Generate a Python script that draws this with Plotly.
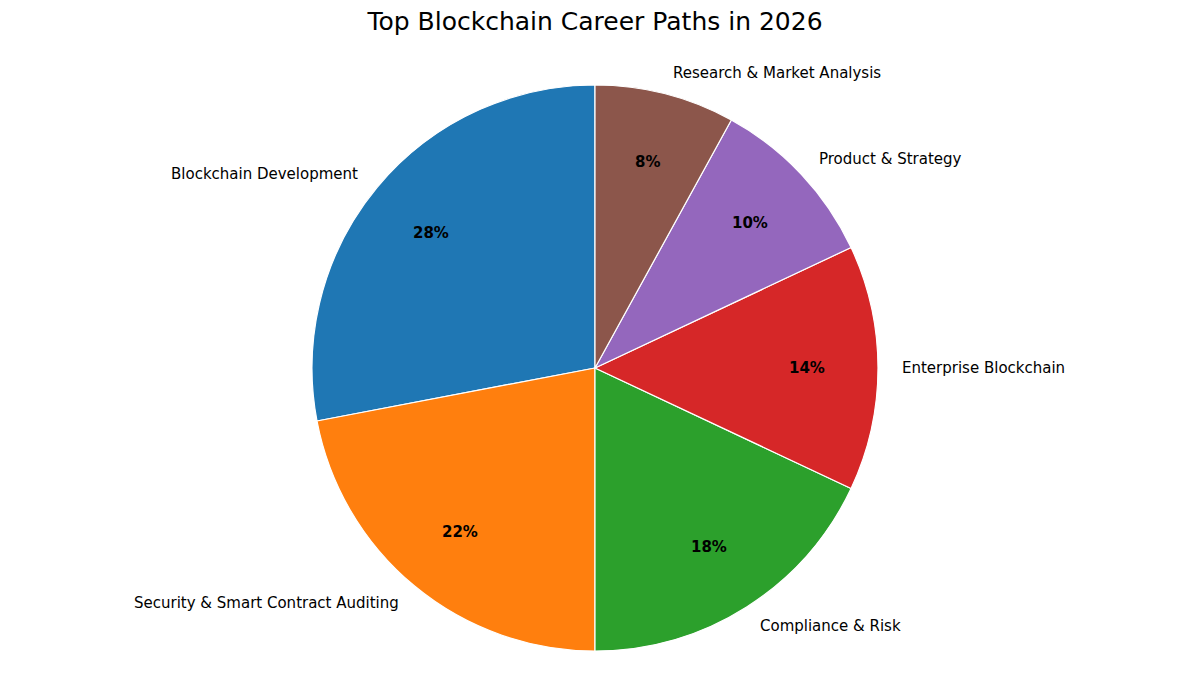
import math
import plotly.graph_objects as go

categories = ["Blockchain Development", "Security & Smart Contract Auditing", "Compliance & Risk",
              "Enterprise Blockchain", "Product & Strategy", "Research & Market Analysis"]
shares = [28, 22, 18, 14, 10, 8]
colors = ["#1f77b4", "#ff7f0e", "#2ca02c", "#d62728", "#9467bd", "#8c564b"]

W, H = 1189, 690
OFF = 8  # page body margin shifts the figure by this much
CX, CY, R = 595 - OFF, 368 - OFF, 283
FONT = "DejaVu Sans"


def label_annotations(values, names):
    # place labels like matplotlib: names just outside the rim, percentages at 0.75 r
    plot_w = W
    plot_h = H - (CY - R) - (H - CY - R)
    total = sum(values)
    notes = []
    cum = 0
    for v, name in zip(values, names):
        ang = math.radians(90 + 360 * (cum + v / 2) / total)
        cum += v
        for k, txt, bold in [(1.078, name, False), (0.75, f"{v / total * 100:.0f}%", True)]:
            px = CX + k * R * math.cos(ang)
            py = CY - k * R * math.sin(ang)
            if bold:
                anchor = "center"
            else:
                anchor = "right" if math.cos(ang) < -1e-9 else "left"
            notes.append(dict(
                x=px / plot_w, y=(CY + R - py) / plot_h, xref="paper", yref="paper",
                text=f"<b>{txt}</b>" if bold else txt, showarrow=False,
                xanchor=anchor, yanchor="middle",
                font=dict(family=FONT, size=15, color="black"),
            ))
    return notes


fig = go.Figure(go.Pie(
    labels=categories, values=shares, sort=False, direction="counterclockwise",
    # plotly's counterclockwise puts the first slice clockwise of the start angle
    rotation=-360 * shares[0] / sum(shares),
    domain=dict(x=[(CX - R) / W, (CX + R) / W], y=[0, 1]),
    marker=dict(colors=colors, line=dict(color="white", width=1.2)),
    textinfo="none", hoverinfo="label+percent", showlegend=False,
))
fig.update_layout(
    width=W, height=H,
    margin=dict(l=0, r=0, t=CY - R, b=H - CY - R),
    paper_bgcolor="white", plot_bgcolor="white",
    title=dict(text="Top Blockchain Career Paths in 2026", x=(595 - OFF) / W, xanchor="center",
               y=1 - (21 - OFF) / H, yanchor="middle", yref="container",
               font=dict(family=FONT, size=25, color="black")),
    annotations=label_annotations(shares, categories),
)
fig.write_html("out.html")
